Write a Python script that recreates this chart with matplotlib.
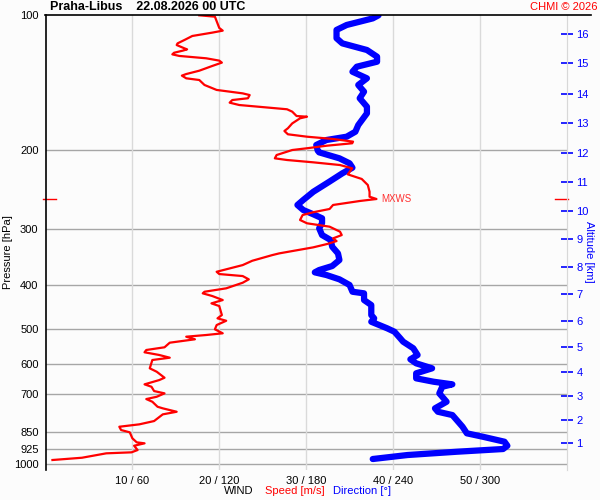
import numpy as np
import matplotlib
matplotlib.use('Agg')
import matplotlib.pyplot as plt
from matplotlib.ticker import NullLocator
from matplotlib.lines import Line2D

plt.rcParams['font.family'] = ['Liberation Sans', 'DejaVu Sans']

# WIND SPEED PROFILE (pressure hPa, speed m/s)
speed_p = [100.0, 100.7, 106.7, 108.2, 109.3, 111.2, 113.5, 115.5, 116.5, 118.5,
           119.1, 119.9, 121.2, 122.2, 123.2, 124.7, 126.2, 127.5, 129.7, 132.9,
           135.2, 136.3, 138.2, 139.4, 143.0, 146.7, 149.3, 150.6, 153.1, 154.5,
           156.6, 158.5, 162.0, 164.0, 167.7, 168.3, 169.7, 174.2, 178.6, 181.1,
           184.2, 186.5, 188.7, 191.3, 192.9, 195.3, 197.9, 199.7, 204.9, 208.4,
           210.2, 212.7, 215.7, 219.4, 226.3, 231.7, 239.0, 247.4, 253.8, 256.8,
           259.4, 264.8, 270.3, 274.9, 278.8, 286.0, 290.9, 296.0, 303.7, 309.0,
           314.3, 318.7, 323.6, 329.2, 339.5, 342.5, 352.6, 360.5, 368.5, 373.1,
           377.5, 381.4, 387.9, 394.7, 406.2, 413.4, 416.8, 422.6, 431.4, 438.8,
           444.9, 465.9, 473.9, 479.8, 490.5, 501.3, 511.7, 516.2, 520.7, 527.7,
           537.0, 549.8, 557.5, 564.1, 572.0, 580.0, 586.9, 612.5, 623.3, 642.8,
           650.5, 665.0, 673.3, 688.3, 696.5, 708.8, 717.2, 727.2, 746.1, 752.2,
           765.5, 775.8, 802.9, 816.6, 826.7, 840.8, 850.8, 877.4, 895.6, 900.2,
           911.4, 931.7, 942.8, 947.6, 969.3, 980.7]
speed_ms = [17.7, 19.5, 20.0, 20.4, 19.2, 16.9, 16.0, 15.2, 15.1, 16.0,
            16.3, 15.8, 14.8, 14.6, 15.4, 18.5, 20.0, 20.3, 19.2, 17.7,
            16.2, 15.7, 16.2, 17.7, 18.3, 19.7, 22.7, 23.5, 23.3, 21.5,
            21.2, 22.3, 27.8, 28.4, 28.9, 30.1, 29.3, 28.4, 27.9, 27.5,
            27.9, 30.1, 33.1, 35.4, 35.3, 32.4, 30.1, 28.4, 26.6, 26.4,
            27.8, 30.8, 33.9, 35.3, 34.8, 36.4, 37.1, 37.3, 37.3, 38.1,
            36.2, 33.1, 32.7, 30.8, 29.6, 29.3, 30.1, 32.7, 33.9, 34.1,
            33.1, 33.5, 32.4, 30.8, 26.9, 26.1, 23.8, 22.7, 20.8, 19.7,
            20.0, 22.7, 23.4, 22.7, 20.8, 18.3, 18.1, 19.2, 20.4, 19.1,
            20.0, 20.3, 19.8, 20.8, 19.7, 19.5, 20.4, 18.5, 16.2, 17.2,
            14.3, 13.7, 11.6, 11.4, 13.1, 14.3, 12.3, 12.0, 12.8, 13.7,
            13.1, 11.4, 12.2, 12.5, 13.7, 12.8, 11.6, 12.3, 12.9, 13.5,
            15.1, 13.5, 12.5, 10.8, 8.5, 8.7, 9.7, 10.0, 10.5, 11.4,
            10.2, 10.6, 9.9, 7.0, 4.2, 0.8]

# WIND DIRECTION PROFILE (pressure hPa, direction deg)
dir_p = [100.0, 101.6, 105.1, 107.8, 112.5, 115.5, 119.5, 123.7, 126.9, 130.2,
         133.6, 138.2, 143.0, 148.0, 153.1, 159.9, 165.4, 175.7, 181.8, 186.5,
         189.7, 194.6, 200.3, 202.1, 208.4, 213.8, 218.7, 225.1, 235.0, 247.4,
         258.1, 264.8, 271.7, 277.8, 283.5, 290.9, 298.5, 309.0, 317.1, 328.1,
         339.5, 351.3, 362.3, 369.8, 374.2, 379.4, 387.9, 399.3, 413.4, 416.8,
         431.4, 442.6, 465.9, 473.9, 482.3, 498.8, 507.6, 525.0, 534.2, 552.6,
         572.0, 584.8, 597.0, 612.5, 628.4, 644.8, 656.1, 665.0, 673.3, 696.5,
         727.2, 752.2, 765.5, 778.6, 798.8, 826.7, 855.1, 870.2, 892.8, 911.4,
         926.9, 939.9, 955.9, 975.7]
dir_deg = [230, 226, 208, 201, 201, 205, 222, 229, 229, 215,
           212, 222, 216, 220, 217, 222, 222, 216, 214, 208,
           194, 187, 188, 189, 203, 210, 212, 205, 196, 185,
           178, 174, 178, 185, 191, 191, 189, 191, 197, 198,
           202, 203, 198, 189, 186, 194, 203, 210, 212, 220,
           220, 225, 225, 227, 225, 236, 241, 245, 247, 254,
           257, 252, 256, 267, 256, 256, 268, 281, 274, 272,
           277, 269, 271, 281, 284, 288, 291, 302, 317, 319,
           316, 284, 250, 226]

# AXIS LEVELS
pressure_levels = [100, 200, 300, 400, 500, 600, 700, 850, 925, 1000]
speed_ticks = [10, 20, 30, 40, 50]
alt_km = [1, 2, 3, 4, 5, 6, 7, 8, 9, 10, 11, 12, 13, 14, 15, 16]
alt_p = [900.0, 798.7, 705.0, 623.3, 548.1, 479.7, 418.9, 364.7, 315.8, 272.7,
         235.7, 203.1, 173.9, 149.8, 127.8, 110.1]
mxws_p = 256.8
mxws_speed = 38.1

BG = '#fcfcfc'
fig = plt.figure(figsize=(6, 5), dpi=100, facecolor=BG)
ax = fig.add_axes([45.5/600, 0.06, 521.25/600, 0.9094])
ax.set_facecolor(BG)

ax.set_yscale('log')
ax.set_ylim(1032.3, 100)
ax.set_xlim(0, 60)
ax.yaxis.set_minor_locator(NullLocator())
ax.set_yticks(pressure_levels)
ax.set_yticklabels([str(p) for p in pressure_levels])
ax.set_xticks(speed_ticks)
ax.set_xticklabels(['{} / {}'.format(s, s*6) for s in speed_ticks])
ax.tick_params(axis='y', length=0, pad=5, labelsize=8)
ax.tick_params(axis='x', length=0, pad=4, labelsize=8)

for p in pressure_levels[1:]:
    ax.axhline(p, color='#a6a6a6', lw=1.0, zorder=1)
for s in speed_ticks:
    ax.axvline(s, color='#dadada', lw=1.0, zorder=1)

ax.spines['top'].set_visible(False)
ax.spines['bottom'].set_visible(False)
ax.spines['left'].set_color('black')
ax.spines['left'].set_linewidth(1.2)
ax.spines['right'].set_color('#d8d8d8')

# DIRECTION (scaled to speed axis: 6 deg per m/s)
ax.plot(np.array(dir_deg)/6.0, dir_p, color='#0000ff', lw=4.5,
        solid_capstyle='round', solid_joinstyle='round', zorder=3)
ax.plot(speed_ms, speed_p, color='#ff0000', lw=1.6, zorder=4)

# MAX WIND MARKERS
trans = ax.get_yaxis_transform()
ax.plot([-0.004, 0.021], [mxws_p, mxws_p], color='#ff0000', lw=1, transform=trans, clip_on=False)
ax.plot([0.977, 1.002], [mxws_p, mxws_p], color='#ff0000', lw=1, transform=trans, clip_on=False)
ax.text(mxws_speed + 0.6, mxws_p, 'MXWS', color='#ff3030', fontsize=7, va='center', ha='left')

# ALTITUDE AXIS
ax2 = ax.twinx()
ax2.set_yscale('log')
ax2.set_ylim(ax.get_ylim())
ax2.yaxis.set_minor_locator(NullLocator())
ax2.set_yticks(alt_p)
ax2.set_yticklabels([str(a) for a in alt_km])
ax2.tick_params(axis='y', direction='inout', length=8, width=1.2, color='#0000ff',
                labelcolor='#0000ff', labelsize=8, pad=3)
for sp in ['top', 'bottom', 'left']:
    ax2.spines[sp].set_visible(False)
ax2.spines['right'].set_color('#d8d8d8')

# TOP LINE AND TEXTS
fig.add_artist(Line2D([45/600, 591/600], [1-15.3/500, 1-15.3/500], color='black', lw=1.2))
fig.text(50/600, 1-7/500, 'Praha-Libus    22.08.2026 00 UTC', fontsize=9, fontweight='bold', va='center', ha='left')
fig.text(597/600, 1-7/500, 'CHMI \u00a9 2026', fontsize=8, color='#ff0000', va='center', ha='right')
fig.text(8/600, 0.496, 'Pressure [hPa]', rotation=90, fontsize=8, va='center', ha='center')
fig.text(589/600, 0.496, 'Altitude [km]', rotation=270, fontsize=8, color='#0000ff', va='center', ha='center')
fig.text(253/600, 1-491/500, 'WIND', fontsize=8, va='center', ha='right')
fig.text(265/600, 1-491/500, 'Speed [m/s]', fontsize=8, color='#ff0000', va='center', ha='left')
fig.text(333/600, 1-491/500, 'Direction [\u00b0]', fontsize=8, color='#0000ff', va='center', ha='left')

fig.savefig('out.png', dpi=100, facecolor=BG)
